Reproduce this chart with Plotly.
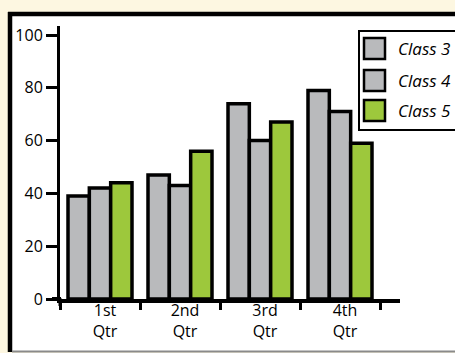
import plotly.graph_objects as go

# data
quarters = ["1st Qtr", "2nd Qtr", "3rd Qtr", "4th Qtr"]
series_names = ["Class 3", "Class 4", "Class 5"]
class3 = [39, 47, 74, 79]
class4 = [42, 43, 60, 71]
class5 = [44, 56, 67, 59]
y_ticks = [0, 20, 40, 60, 80, 100]

series_values = [class3, class4, class5]
series_colors = ["#b9babc", "#b9babc", "#9dc83c"]

W, H = 455, 353
L, R, T, B = 60, 400, 26, 299  # plot area in pixels
FONT = "Open Sans"
CREAM = "#fdf7e1"


def px(x):
    return (x - L) / (R - L)


def py(y):
    return (B - y) / (B - T)


labels = [q.replace(" ", "<br>") for q in quarters]

fig = go.Figure()
for name, vals, col in zip(series_names, series_values, series_colors):
    fig.add_trace(go.Bar(
        x=labels, y=vals, name=name,
        marker=dict(color=col, line=dict(color="black", width=3.5)),
    ))

shapes = [
    # white chart box with cream page around it
    dict(type="rect", xref="paper", yref="paper", layer="below",
         x0=px(10), x1=px(480), y0=py(351), y1=py(14),
         fillcolor="white", line=dict(width=0)),
    dict(type="line", xref="paper", yref="paper", layer="below",
         x0=px(10), x1=px(10), y0=py(352), y1=py(12),
         line=dict(color="black", width=4.5)),
    dict(type="line", xref="paper", yref="paper", layer="below",
         x0=px(8), x1=px(480), y0=py(14), y1=py(14),
         line=dict(color="black", width=4.5)),
    dict(type="line", xref="paper", yref="paper", layer="below",
         x0=px(12), x1=px(480), y0=py(351.5), y1=py(351.5),
         line=dict(color="#8a8a8a", width=2)),
    # hand-drawn overshoot of the axes
    dict(type="line", xref="paper", yref="paper",
         x0=px(52), x1=px(61), y0=py(299), y1=py(299),
         line=dict(color="black", width=4)),
    dict(type="line", xref="paper", yref="paper",
         x0=px(60), x1=px(60), y0=py(298), y1=py(306),
         line=dict(color="black", width=3)),
    # legend box
    dict(type="rect", xref="paper", yref="paper",
         x0=px(359), x1=px(480), y0=py(130), y1=py(31),
         fillcolor="white", line=dict(color="black", width=2)),
]

annotations = []
sw_tops = [38, 70, 100]
for name, col, top in zip(series_names, series_colors, sw_tops):
    shapes.append(dict(type="rect", xref="paper", yref="paper",
                       x0=px(364), x1=px(385), y0=py(top + 21), y1=py(top),
                       fillcolor=col, line=dict(color="black", width=2.5)))
    annotations.append(dict(xref="paper", yref="paper", x=px(396), y=py(top + 10),
                            xanchor="left", yanchor="middle", showarrow=False,
                            text=name,
                            font=dict(family=FONT, size=17, color="black", style="italic")))

fig.update_layout(
    width=W, height=H,
    margin=dict(l=L, r=W - R, t=T, b=H - B),
    paper_bgcolor=CREAM,
    plot_bgcolor="rgba(0,0,0,0)",
    barmode="group", bargap=0.2, bargroupgap=0,
    showlegend=False,
    shapes=shapes,
    annotations=annotations,
    font=dict(family=FONT, size=16, color="black"),
)
fig.update_xaxes(
    range=[-0.5, -0.5 + (R - L) / 80], automargin=False,
    tickson="boundaries", ticks="outside", ticklen=7, tickwidth=3, tickcolor="black",
    showline=True, linewidth=4, linecolor="black",
    showgrid=False, ticklabelshift=5, ticklabelstandoff=-6,
    tickfont=dict(size=16, family=FONT, color="black"),
)
fig.update_yaxes(
    range=[0, (B - T) / 2.64], automargin=False,
    tickvals=y_ticks, ticks="outside", ticklen=11, tickwidth=3, tickcolor="black",
    showline=True, linewidth=3, linecolor="black",
    showgrid=False, zeroline=False,
    tickfont=dict(size=16, family=FONT, color="black"),
)

# pin the figure to the window's top-left corner, no page margin
pin = (
    "document.body.style.margin='0';"
    "document.body.style.background='" + CREAM + "';"
    "var gd=document.getElementById('{plot_id}');"
    "gd.style.position='fixed';gd.style.top='0';gd.style.left='0';"
)
fig.write_html("out.html", config={"displayModeBar": False}, post_script=pin)
